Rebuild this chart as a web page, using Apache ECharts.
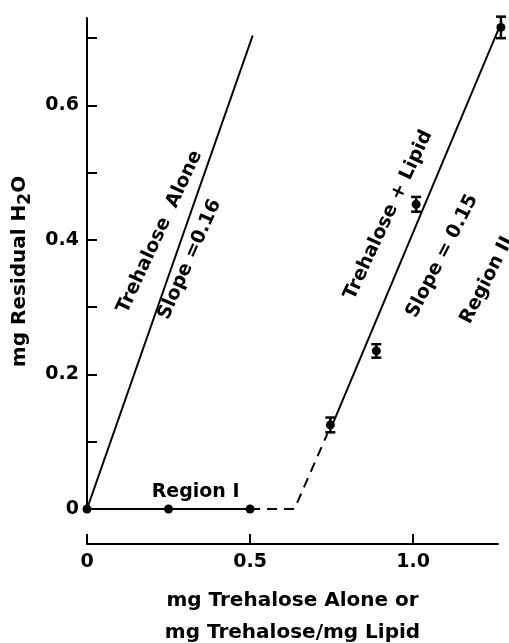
<!DOCTYPE html>
<html><head><meta charset="utf-8">
<script src="https://cdn.jsdelivr.net/npm/echarts@6/dist/echarts.min.js"></script>
<style>html,body{margin:0;padding:0;background:#fff}#c{width:509px;height:643px}</style>
</head><body><div id="c"></div>
<script>
// ---- data ----
const regionIPoints = [[0, 0], [0.25, 0], [0.5, 0]];
const trehaloseAloneLine = [[0, 0], [0.508, 0.704]];
const dashedTransition = [[0.5, 0], [0.636, 0], [0.737, 0.112]];
const lipidFitLine = [[0.752, 0.125], [1.263, 0.715]];
const lipidX = [0.746, 0.887, 1.009, 1.269];
const lipidY = [0.125, 0.235, 0.453, 0.716];
const lipidErr = [0.011, 0.010, 0.011, 0.016];
const xTickValues = [0, 0.5, 1.0];
const yTickValues = [0, 0.1, 0.2, 0.3, 0.4, 0.5, 0.6, 0.7];
const yLabelValues = [0, 0.2, 0.4, 0.6];
const annotationText = ['Trehalose  Alone', 'Slope =0.16', 'Trehalose + Lipid', 'Slope = 0.15', 'Region II', 'Region I'];
const annotationX = [0.223, 0.315, 0.924, 1.089, 1.226, 0.333];
const annotationY = [0.412, 0.371, 0.437, 0.376, 0.34, 0.025];
const annotationAngle = [65, 66, 65, 63, 63, 0];

const FONT = 'DejaVu Sans';
const chart = echarts.init(document.getElementById('c'), null, {renderer: 'canvas'});

const lipidPoints = lipidX.map((x, i) => [x, lipidY[i]]);
const errorData = lipidX.map((x, i) => [x, lipidY[i] - lipidErr[i], lipidY[i] + lipidErr[i]]);
const annData = annotationText.map((t, i) => ({
  value: [annotationX[i], annotationY[i]],
  label: {rotate: annotationAngle[i], formatter: t}
}));

const fmt = v => (v === 0 ? '0' : v.toFixed(1));

chart.setOption({
  animation: false,
  backgroundColor: '#fff',
  grid: {left: 87, right: 11, top: 18, bottom: 134, containLabel: false, outerBoundsMode: 'none'},
  xAxis: {
    type: 'value', min: 0, max: 1.26, offset: 35,
    splitLine: {show: false},
    axisLine: {onZero: false, lineStyle: {color: '#000', width: 2}},
    axisTick: {inside: true, length: 10, lineStyle: {color: '#000', width: 2}, customValues: xTickValues},
    axisLabel: {color: '#000', fontFamily: FONT, fontWeight: 'bold', fontSize: 19, margin: 9,
      customValues: xTickValues, formatter: fmt},
    name: 'mg Trehalose Alone or\nmg Trehalose/mg Lipid',
    nameLocation: 'middle', nameGap: 41,
    nameTextStyle: {color: '#000', fontFamily: FONT, fontWeight: 'bold', fontSize: 20, lineHeight: 32}
  },
  yAxis: {
    type: 'value', min: 0, max: 0.73,
    splitLine: {show: false},
    axisLine: {onZero: false, lineStyle: {color: '#000', width: 2}},
    axisTick: {inside: true, length: 10, lineStyle: {color: '#000', width: 2}, customValues: yTickValues},
    axisLabel: {color: '#000', fontFamily: FONT, fontWeight: 'bold', fontSize: 19, margin: 8,
      customValues: yLabelValues, formatter: fmt},
    name: '{a|mg Residual H}{s|2}{a|O}',
    nameLocation: 'middle', nameGap: 48,
    nameTextStyle: {
      color: '#000', padding: [0, 16, 0, 0],
      rich: {
        a: {fontFamily: FONT, fontWeight: 'bold', fontSize: 20, lineHeight: 30, verticalAlign: 'middle', color: '#000'},
        s: {fontFamily: FONT, fontWeight: 'bold', fontSize: 17, lineHeight: 14, verticalAlign: 'bottom', color: '#000'}
      }
    }
  },
  series: [
    {type: 'line', name: 'Trehalose Alone', data: trehaloseAloneLine, showSymbol: false, clip: false,
      lineStyle: {color: '#000', width: 2}, silent: true},
    {type: 'line', name: 'Region I', data: regionIPoints, symbol: 'circle', symbolSize: 9, clip: false,
      itemStyle: {color: '#000', opacity: 1}, lineStyle: {color: '#000', width: 2}, silent: true},
    {type: 'line', name: 'Transition', data: dashedTransition, showSymbol: false, clip: false,
      lineStyle: {color: '#000', width: 2, type: [10, 7]}, silent: true},
    {type: 'line', name: 'Trehalose + Lipid fit', data: lipidFitLine, showSymbol: false, clip: false,
      lineStyle: {color: '#000', width: 2}, silent: true},
    {type: 'custom', name: 'error', data: errorData, clip: false, silent: true,
      encode: {x: 0, y: [1, 2]},
      renderItem: function (params, api) {
        const x = api.value(0);
        const pHi = api.coord([x, api.value(2)]);
        const pLo = api.coord([x, api.value(1)]);
        const hw = 5;
        const st = {stroke: '#000', lineWidth: 2.5};
        return {type: 'group', children: [
          {type: 'line', shape: {x1: pHi[0], y1: pHi[1], x2: pLo[0], y2: pLo[1]}, style: st},
          {type: 'line', shape: {x1: pHi[0] - hw, y1: pHi[1], x2: pHi[0] + hw, y2: pHi[1]}, style: st},
          {type: 'line', shape: {x1: pLo[0] - hw, y1: pLo[1], x2: pLo[0] + hw, y2: pLo[1]}, style: st}
        ]};
      }
    },
    {type: 'scatter', name: 'Trehalose + Lipid', data: lipidPoints, symbol: 'circle', symbolSize: 9,
      clip: false, itemStyle: {color: '#000', opacity: 1}, silent: true},
    {type: 'scatter', name: 'annotations', data: annData, symbolSize: 0, clip: false, silent: true,
      itemStyle: {opacity: 1},
      label: {show: true, position: 'inside', color: '#000', opacity: 1, fontFamily: FONT, fontWeight: 'bold', fontSize: 19}}
  ]
});
</script></body></html>
